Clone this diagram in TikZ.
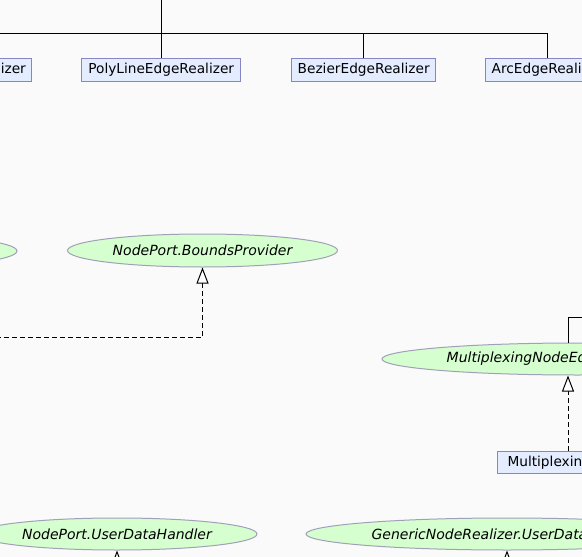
\documentclass[tikz,border=0pt]{standalone}
\usepackage{fontspec}
\setmainfont{DejaVu Sans}
\usetikzlibrary{arrows.meta,shapes.geometric}
\definecolor{bg}{RGB}{250,250,250}
\definecolor{boxfill}{RGB}{227,237,255}
\definecolor{boxline}{RGB}{134,134,196}
\definecolor{ellfill}{RGB}{214,255,208}
\definecolor{ellline}{RGB}{160,160,184}
\begin{document}
\begin{tikzpicture}[x=1pt,y=-1pt,
 classbox/.style={draw=boxline, fill=boxfill, line width=1pt, inner sep=0pt, minimum height=23pt, font=\fontsize{13.7}{16}\selectfont},
 iface/.style={ellipse, draw=ellline, fill=ellfill, line width=1pt, inner sep=0pt, font=\fontsize{14}{16}\selectfont\itshape},
 inherit/.style={draw=black, line width=1pt},
 impl/.style={draw=black, line width=1pt, dash pattern=on 5pt off 3pt, -{Triangle[length=16pt,width=12pt,fill=white]}},
]
\fill[bg] (0,0) rectangle (582,557);
\useasboundingbox (0,0) rectangle (582,557);
\clip (0,0) rectangle (582,557);

% class boxes
\node[classbox, minimum width=143pt] (spline) at (-39.8,70) {SplineEdgeRealizer};
\node[classbox, minimum width=159pt] (poly) at (161.2,70) {PolyLineEdgeRealizer};
\node[classbox, minimum width=144pt] (bez) at (363.7,70) {BezierEdgeRealizer};
\node[classbox, minimum width=123pt] (arc) at (547.3,70) {ArcEdgeRealizer};
\node[classbox, anchor=north west, minimum height=22pt, inner xsep=10pt] (mnebox) at (497,451) {MultiplexingNodeEditor};

% interfaces
\node[iface, minimum width=274pt, minimum height=33pt] (lefte) at (-120,251) {};
\node[iface, minimum width=270pt, minimum height=33pt] (bp) at (202.5,250.5) {NodePort.BoundsProvider};
\node[iface, minimum width=390pt, minimum height=32pt] (mne) at (577,359) {MultiplexingNodeEditor.EditorLocator};
\node[iface, minimum width=280pt, minimum height=32pt] (udh) at (117,534) {NodePort.UserDataHandler};
\node[iface, minimum width=402pt, minimum height=32pt] (gudh) at (507,534) {GenericNodeRealizer.UserDataHandler};

% helper coordinates
\coordinate (parent) at (161.2,-30);
\coordinate (bus) at (161.2,33);
\coordinate (bpsrc) at (-60,337.7);
\coordinate (mx) at (568,0);
\coordinate (mneup) at (640,317);
\coordinate (udhsrc) at (117,620);
\coordinate (gudhsrc) at (507,620);

% inheritance
\draw[inherit] (parent) -- (poly.north);
\draw[inherit] (bus) -| (bez.north);
\draw[inherit] (bus) -| (arc.north);
\draw[inherit] (bus) -| (spline.north);
\draw[inherit] (mne.north -| mx) |- (mneup);

% implementation
\draw[impl] (bpsrc) -| (bp.south);
\draw[impl] (mnebox.north -| mx) -- (mne.south -| mx);
\draw[impl] (udhsrc) -- (udh.south);
\draw[impl] (gudhsrc) -- (gudh.south);
\end{tikzpicture}
\end{document}
